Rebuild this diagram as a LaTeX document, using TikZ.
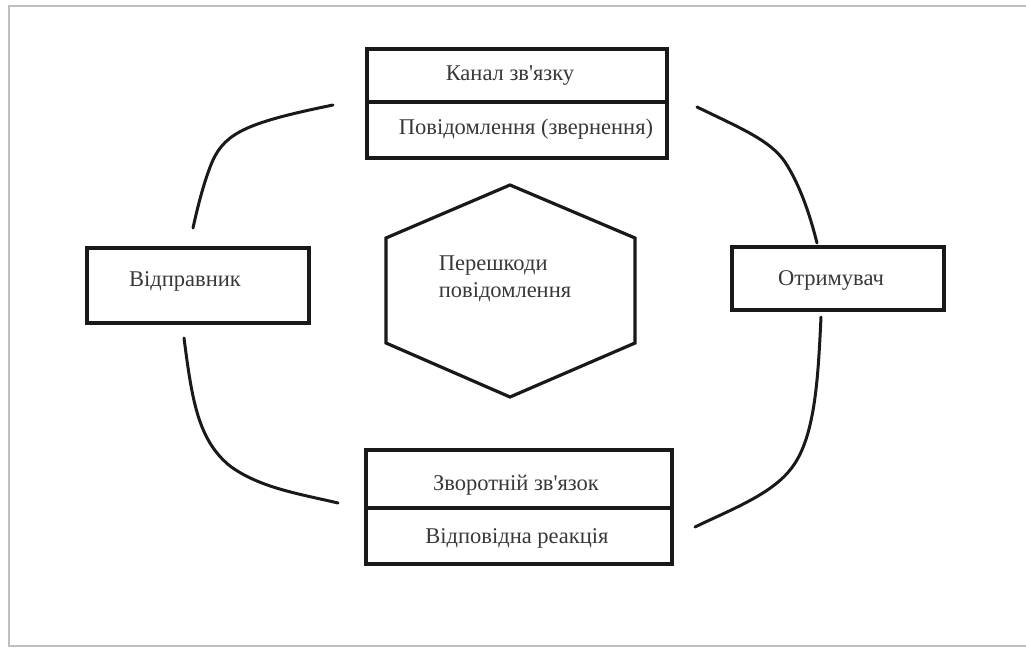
\documentclass[tikz,border=0pt]{standalone}
\usepackage{fontspec}
\setmainfont{Liberation Serif}[Ligatures=TeXOff]
\begin{document}
\begin{tikzpicture}[x=1pt,y=-1pt,
  boxline/.style={draw=black!90,line width=3.2pt},
  lbl/.style={font=\fontsize{22.5}{27}\selectfont,text=black!78,inner sep=0pt},
  conn/.style={draw=black!90,line width=3pt,line cap=round}]
\useasboundingbox (0,0) rectangle (1026,648);
\begin{scope}
\clip (0,0) rectangle (1026,648);
\draw[black!25,line width=1.4pt] (9,6) rectangle (1040,646);
\end{scope}
% top box
\draw[boxline] (367,49) rectangle (667,158);
\draw[boxline] (367,102) -- (667,102);
\node[lbl] (kanal) at (510,76) {Канал зв'язку};
\node[lbl] (povid) at (526,129) {Повідомлення (звернення)};
% bottom box
\draw[boxline] (366,450) rectangle (672,564);
\draw[boxline] (366,508) -- (672,508);
\node[lbl] (zvor) at (516,485) {Зворотній зв'язок};
\node[lbl] (vidp) at (517,538) {Відповідна реакція};
% left box
\draw[boxline] (87,248) rectangle (309,323);
\node[lbl] (sender) at (185,281) {Відправник};
% right box
\draw[boxline] (732,247) rectangle (944,310);
\node[lbl] (recv) at (831,280) {Отримувач};
% hexagon
\draw[boxline,line join=miter] (510,185) -- (635,238) -- (635,343) -- (510,397) -- (386,343) -- (386,238) -- cycle;
\node[lbl,align=left] (hex) at (505,279) {Перешкоди\\повідомлення};
% connectors
\coordinate (c1a) at (333,105); \coordinate (c1b) at (193,228);
\draw[conn] (c1a) .. controls (250,122) and (226,132) .. (213,160) .. controls (205,178) and (198,205) .. (c1b);
\coordinate (c2a) at (184,338); \coordinate (c2b) at (338,503);
\draw[conn] (c2a) .. controls (192,400) and (198,440) .. (230,466) .. controls (260,488) and (300,494) .. (c2b);
\coordinate (c3a) at (697,107); \coordinate (c3b) at (817,243);
\draw[conn] (c3a) .. controls (740,128) and (770,140) .. (785,162) .. controls (800,185) and (810,215) .. (c3b);
\coordinate (c4a) at (821,317); \coordinate (c4b) at (695,527);
\draw[conn] (c4a) .. controls (818,380) and (815,440) .. (790,470) .. controls (770,495) and (730,510) .. (c4b);
\end{tikzpicture}
\end{document}
